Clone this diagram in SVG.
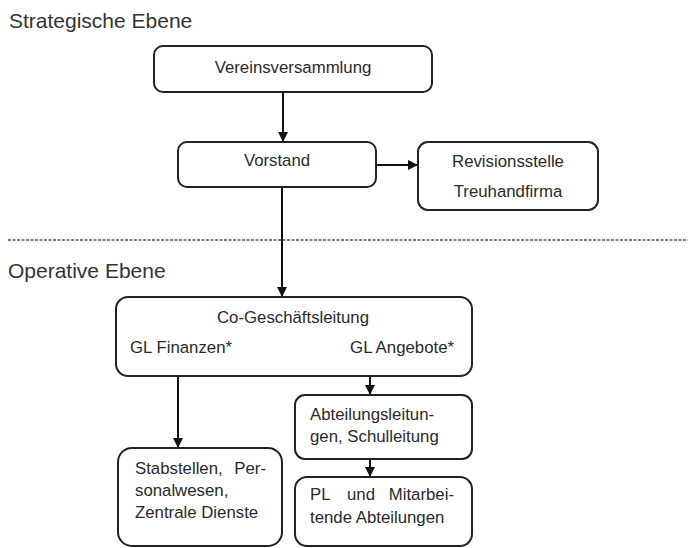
<svg xmlns="http://www.w3.org/2000/svg" width="688" height="548" viewBox="0 0 688 548">
<style>
.box{fill:#fff;stroke:#222;stroke-width:2}
.t{font-family:"Liberation Sans",Arial,sans-serif;font-size:16.8px;fill:#2a2a2a}
.h{font-family:"Liberation Sans",Arial,sans-serif;font-size:21px;fill:#333}
.c{stroke:#111;stroke-width:2;fill:none;marker-end:url(#a)}
</style>
<defs>
<marker id="a" viewBox="0 0 10 10" refX="10" refY="5" markerWidth="5" markerHeight="5" orient="auto" markerUnits="strokeWidth">
<path d="M0,0 L10,5 L0,10 z" fill="#111"/>
</marker>
</defs>
<rect width="688" height="548" fill="#fff"/>
<text class="h" x="9" y="28">Strategische Ebene</text>
<text class="h" x="8" y="278">Operative Ebene</text>
<line x1="8" y1="240" x2="688" y2="240" stroke="#555" stroke-width="1.4" stroke-dasharray="3 1.5"/>
<g id="connectors">
<line class="c" x1="283" y1="92" x2="283" y2="142"/>
<line class="c" x1="376" y1="165" x2="418" y2="165"/>
<line class="c" x1="282" y1="187" x2="282" y2="297"/>
<line class="c" x1="178" y1="376" x2="178" y2="448"/>
<line class="c" x1="370" y1="376" x2="370" y2="395"/>
<line class="c" x1="370" y1="459" x2="370" y2="477"/>
</g>
<g id="vereinsversammlung">
<rect class="box" x="154" y="46" width="278" height="46" rx="9"/>
<text class="t" x="293" y="73" text-anchor="middle">Vereinsversammlung</text>
</g>
<g id="vorstand">
<rect class="box" x="178" y="142" width="198" height="45" rx="9"/>
<text class="t" x="277" y="166" text-anchor="middle">Vorstand</text>
</g>
<g id="revisionsstelle">
<rect class="box" x="418" y="142" width="180" height="68" rx="10"/>
<text class="t" x="508" y="167" text-anchor="middle">Revisionsstelle</text>
<text class="t" x="508" y="197" text-anchor="middle">Treuhandfirma</text>
</g>
<g id="co-gl">
<rect class="box" x="116" y="297" width="356" height="79" rx="12"/>
<text class="t" x="293" y="323" text-anchor="middle">Co-Geschäftsleitung</text>
<text class="t" x="130" y="353">GL Finanzen*</text>
<text class="t" x="454" y="353" text-anchor="end">GL Angebote*</text>
</g>
<g id="stabstellen">
<rect class="box" x="118" y="448" width="164" height="98" rx="14"/>
<text class="t" y="474"><tspan x="135">Stabstellen,</tspan><tspan x="266" text-anchor="end">Per-</tspan></text>
<text class="t" x="135" y="496">sonalwesen,</text>
<text class="t" x="135" y="518">Zentrale Dienste</text>
</g>
<g id="abteilungsleitungen">
<rect class="box" x="295" y="395" width="177" height="64" rx="10"/>
<text class="t" x="310" y="420">Abteilungsleitun-</text>
<text class="t" x="310" y="442">gen, Schulleitung</text>
</g>
<g id="pl">
<rect class="box" x="295" y="477" width="177" height="69" rx="12"/>
<text class="t" y="500"><tspan x="310">PL</tspan><tspan x="361" text-anchor="middle">und</tspan><tspan x="454" text-anchor="end">Mitarbei-</tspan></text>
<text class="t" x="310" y="523">tende Abteilungen</text>
</g>
</svg>
